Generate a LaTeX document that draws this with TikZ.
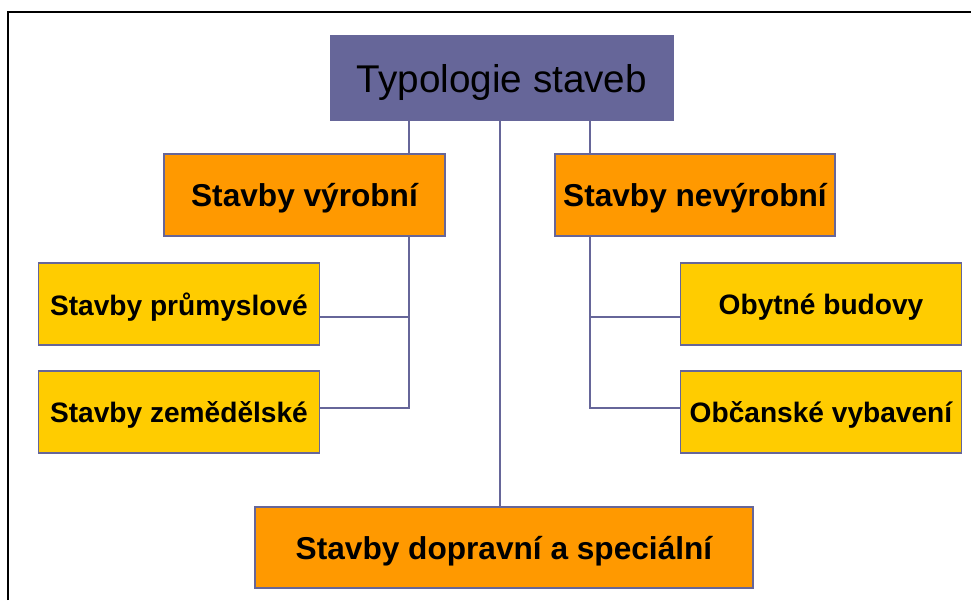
\documentclass[tikz,border=0pt]{standalone}
\usepackage{fontspec}
\setmainfont{Liberation Sans}

\definecolor{lila}{HTML}{666699}
\definecolor{oranzova}{HTML}{FF9900}
\definecolor{zluta}{HTML}{FFCC00}

\begin{document}
\begin{tikzpicture}[x=0.02cm, y=-0.02cm,
  box/.style={draw=lila, line width=1pt, inner sep=0pt, text depth=0pt,
    minimum width=5.62cm, minimum height=1.64cm},
  hlavni/.style={box, fill=oranzova, font=\fontsize{18}{20}\selectfont\bfseries},
  vedlejsi/.style={box, fill=zluta, font=\fontsize{16}{18}\selectfont\bfseries},
  spoj/.style={draw=lila, line width=1.1pt}]
\useasboundingbox (0,0) rectangle (971,600);
\draw[line width=1.4pt] (8,600) -- (8,12) -- (971,12);

% Define nodes
\path
(502,78) node[box, fill=lila, minimum width=6.84cm, minimum height=1.68cm,
  font=\fontsize{22}{24}\selectfont] (typ) {Typologie staveb}
(304.5,195) node[hlavni] (vyr) {Stavby výrobní}
(695,195) node[hlavni, minimum width=5.6cm] (nevyr) {Stavby nevýrobní}
(179,304) node[vedlejsi] (prum) {Stavby průmyslové}
(179,412) node[vedlejsi] (zem) {Stavby zemědělské}
(821,304) node[vedlejsi] (obyt) {Obytné budovy}
(821,412) node[vedlejsi] (obc) {Občanské vybavení}
(504,547.5) node[hlavni, minimum width=9.96cm, minimum height=1.62cm] (dop) {Stavby dopravní a speciální}
;

% branch points
\coordinate (lj1) at (409,317);
\coordinate (lj2) at (409,408);
\coordinate (rj1) at (590,317);
\coordinate (rj2) at (590,408);

\draw[spoj]
(typ.south -| lj1) -- (vyr.north -| lj1)
(typ.south -| rj1) -- (nevyr.north -| rj1)
(typ.south -| 500,0) -- (dop.north -| 500,0)
(vyr.south -| lj2) -- (lj2) -- (lj2 -| zem.east)
(lj1) -- (lj1 -| prum.east)
(nevyr.south -| rj2) -- (rj2) -- (rj2 -| obc.west)
(rj1) -- (rj1 -| obyt.west)
;

\end{tikzpicture}
\end{document}
